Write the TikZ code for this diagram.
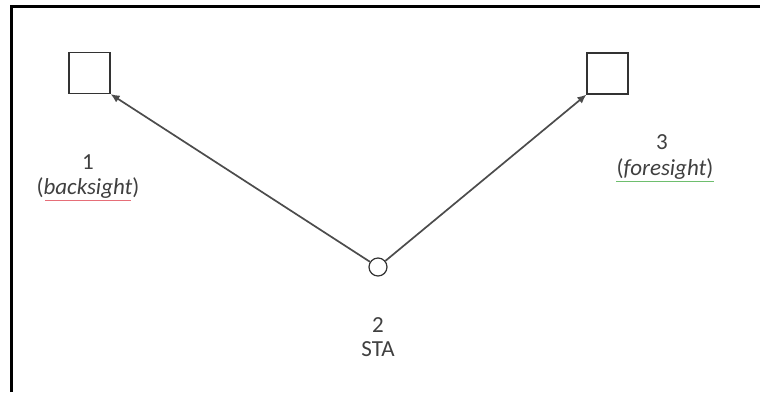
\documentclass[tikz,border=0pt]{standalone}
\usepackage{fontspec}
\setmainfont{Carlito}
\usetikzlibrary{arrows.meta}
\definecolor{spellred}{RGB}{230,110,120}
\definecolor{spellgreen}{RGB}{110,190,110}
\begin{document}
\begin{tikzpicture}[x=1pt,y=-1pt,
  target/.style={draw=black!80,line width=1.2pt,minimum size=41pt,inner sep=0pt},
  station/.style={circle,draw=black!80,line width=1.2pt,minimum size=18pt,inner sep=0pt},
  sight/.style={draw=black!70,line width=1.7pt,-{Latex[length=9pt,width=8pt]}},
  lbl/.style={font=\fontsize{23}{26}\selectfont,text=black!75,inner sep=0pt}]
\useasboundingbox (0,0) rectangle (760,392);
\fill[white] (0,0) rectangle (760,392);
\draw[line width=2.6pt] (11.5,392) -- (11.5,6.5) -- (760,6.5);
\node[target] (b1) at (89.5,73) {};
\node[target] (b3) at (607.5,73.5) {};
\node[station] (s2) at (378,267) {};
\draw[sight] (s2) -- (b1.south east);
\draw[sight] (s2) -- (b3.south west);
\node[lbl] (n1) at (88,162) {1};
\node[lbl] (t1) at (88,188) {(\textit{backsight})};
\node[lbl] (n3) at (662,142) {3};
\node[lbl] (t3) at (665,169) {(\textit{foresight})};
\node[lbl] (n2) at (378,325) {2};
\node[lbl] (t2) at (378,349) {STA};
\draw[spellred,line width=1pt] ([xshift=9pt,yshift=-2pt]t1.south west) -- ([xshift=-9pt,yshift=-2pt]t1.south east);
\draw[spellgreen,line width=1pt] ([xshift=0pt,yshift=-2pt]t3.south west) -- ([xshift=0pt,yshift=-2pt]t3.south east);
\end{tikzpicture}
\end{document}
